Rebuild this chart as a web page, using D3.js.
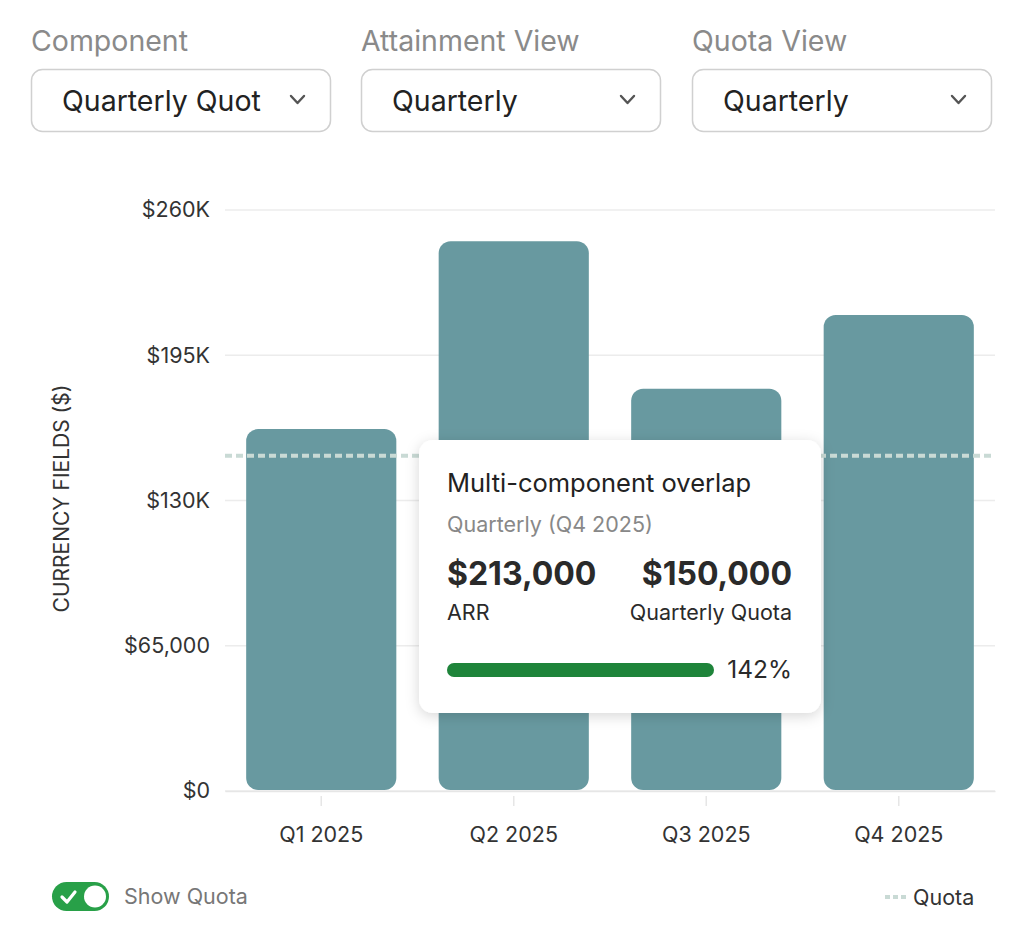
<!DOCTYPE html>
<html>
<head>
<meta charset="utf-8">
<script src="https://cdn.jsdelivr.net/npm/d3@7"></script>
<style>
  body { margin: 0; background: #fff; font-family: Inter, "Noto Sans", sans-serif; }
  svg text { font-family: Inter, "Noto Sans", sans-serif; }
</style>
</head>
<body>
<div id="chart"></div>
<script>
document.addEventListener("DOMContentLoaded", function() {
  // chart data
  const quarters = ["Q1 2025", "Q2 2025", "Q3 2025", "Q4 2025"];
  const arrValues = [162000, 246000, 180000, 213000];
  const quotaValue = 150000;
  const yTicks = [0, 65000, 130000, 195000, 260000];
  const yTickLabels = ["$0", "$65,000", "$130K", "$195K", "$260K"];

  // filter controls
  const filterLabels = ["Component", "Attainment View", "Quota View"];
  const filterValues = ["Quarterly Quot", "Quarterly", "Quarterly"];

  // tooltip content (hovered quarter)
  const tipIndex = 3;
  const tipTitle = "Multi-component overlap";
  const tipSub = "Quarterly (Q4 2025)";

  const W = 1024, H = 932;
  const margin = { top: 210, right: 29, bottom: 141, left: 225 };
  const width = W - margin.left - margin.right;
  const height = H - margin.top - margin.bottom;

  const svg = d3.select("#chart")
    .append("svg")
    .attr("width", W)
    .attr("height", H);

  const defs = svg.append("defs");
  const shadow = defs.append("filter").attr("id", "shadow")
    .attr("x", "-20%").attr("y", "-20%").attr("width", "140%").attr("height", "140%");
  shadow.append("feDropShadow")
    .attr("dx", 0).attr("dy", 3).attr("stdDeviation", 7)
    .attr("flood-color", "#000").attr("flood-opacity", 0.16);

  // dropdowns
  const fx = [31, 361, 692];
  const dd = svg.append("g").selectAll("g")
    .data(filterLabels)
    .enter().append("g")
    .attr("transform", (d, i) => `translate(${fx[i]},0)`);

  dd.append("text")
    .attr("x", 0).attr("y", 51)
    .attr("font-size", 28.5)
    .attr("fill", "#8a8a8a")
    .text(d => d);

  dd.append("rect")
    .attr("x", 0.5).attr("y", 69.5)
    .attr("width", 299).attr("height", 62)
    .attr("rx", 11)
    .attr("fill", "#fff")
    .attr("stroke", "#d0d0d0")
    .attr("stroke-width", 1.5);

  dd.append("text")
    .attr("x", 31).attr("y", 111)
    .attr("font-size", 28.5)
    .attr("fill", "#222")
    .text((d, i) => filterValues[i]);

  dd.append("path")
    .attr("d", "M260,96 L266.5,103 L273,96")
    .attr("fill", "none")
    .attr("stroke", "#555")
    .attr("stroke-width", 2.4)
    .attr("stroke-linecap", "round")
    .attr("stroke-linejoin", "round");

  const g = svg.append("g")
    .attr("transform", `translate(${margin.left},${margin.top})`);

  const x = d3.scaleBand()
    .domain(quarters)
    .range([0, width])
    .paddingInner(0.22)
    .paddingOuter(0.11);

  const y = d3.scaleLinear()
    .domain([0, 260000])
    .range([height, 0]);

  // grid
  g.append("g")
    .selectAll("line")
    .data(yTicks)
    .enter().append("line")
    .attr("x1", 0).attr("x2", width)
    .attr("y1", d => y(d)).attr("y2", d => y(d))
    .attr("stroke", "#ececec")
    .attr("stroke-width", 1.5);

  // y axis
  const yAxis = g.append("g")
    .call(d3.axisLeft(y).tickValues(yTicks).tickSize(0).tickPadding(15)
      .tickFormat((d, i) => yTickLabels[i]));
  yAxis.select(".domain").remove();
  yAxis.selectAll("text")
    .attr("font-size", 21.5)
    .attr("fill", "#333")
    .style("font-family", "Inter, sans-serif");

  // x axis
  const xAxis = g.append("g")
    .attr("transform", `translate(0,${height})`)
    .call(d3.axisBottom(x).tickSize(0).tickPadding(36));
  xAxis.select(".domain").attr("stroke", "#e6e6e6").attr("stroke-width", 1.5);
  xAxis.selectAll(".tick line").remove();
  xAxis.selectAll(".tick").append("line")
    .attr("y1", 5).attr("y2", 15)
    .attr("stroke", "#e6e6e6").attr("stroke-width", 1.5);
  xAxis.selectAll("text")
    .attr("font-size", 21.5)
    .attr("fill", "#333")
    .style("font-family", "Inter, sans-serif");

  // bars
  const r = 12;
  g.append("g")
    .selectAll("rect")
    .data(arrValues)
    .enter().append("rect")
    .attr("x", (d, i) => x(quarters[i]))
    .attr("y", d => y(d))
    .attr("width", x.bandwidth())
    .attr("height", d => height - 1 - y(d))
    .attr("rx", r)
    .attr("fill", "#6899a0");

  // quota line
  g.append("line")
    .attr("x1", 0).attr("x2", width)
    .attr("y1", y(quotaValue)).attr("y2", y(quotaValue))
    .attr("stroke", "#c9dad5")
    .attr("stroke-width", 4)
    .attr("stroke-dasharray", "7 4");

  // y axis title
  svg.append("text")
    .attr("transform", `translate(69,${margin.top + height / 2 - 2})rotate(-90)`)
    .attr("text-anchor", "middle")
    .attr("font-size", 21)
    .attr("fill", "#333")
    .text("CURRENCY FIELDS ($)");

  // tooltip
  const tip = svg.append("g").attr("transform", "translate(419,440)");
  const tw = 402, th = 273;
  tip.append("rect")
    .attr("width", tw).attr("height", th)
    .attr("rx", 14)
    .attr("fill", "#fff")
    .attr("filter", "url(#shadow)");
  tip.append("text")
    .attr("x", 28).attr("y", 52)
    .attr("font-size", 25.5).attr("fill", "#222")
    .text(tipTitle);
  tip.append("text")
    .attr("x", 28).attr("y", 92)
    .attr("font-size", 21.5).attr("fill", "#888")
    .text(tipSub);
  const fmt = d3.format("$,");
  tip.append("text")
    .attr("x", 28).attr("y", 145)
    .attr("font-size", 32).attr("font-weight", 700).attr("fill", "#2a2a2a")
    .text(fmt(arrValues[tipIndex]));
  tip.append("text")
    .attr("x", 373).attr("y", 145)
    .attr("text-anchor", "end")
    .attr("font-size", 32).attr("font-weight", 700).attr("fill", "#2a2a2a")
    .text(fmt(quotaValue));
  tip.append("text")
    .attr("x", 28).attr("y", 180)
    .attr("font-size", 21.5).attr("fill", "#2a2a2a")
    .text("ARR");
  tip.append("text")
    .attr("x", 373).attr("y", 180)
    .attr("text-anchor", "end")
    .attr("font-size", 21.5).attr("fill", "#2a2a2a")
    .text("Quarterly Quota");
  const pct = arrValues[tipIndex] / quotaValue;
  const prog = d3.scaleLinear().domain([0, 1]).range([0, 267]).clamp(true);
  tip.append("rect")
    .attr("x", 28).attr("y", 223)
    .attr("width", 267).attr("height", 14)
    .attr("rx", 7).attr("fill", "#e9ecef");
  tip.append("rect")
    .attr("x", 28).attr("y", 223)
    .attr("width", prog(pct)).attr("height", 14)
    .attr("rx", 7).attr("fill", "#1e843a");
  tip.append("text")
    .attr("x", 373).attr("y", 238)
    .attr("text-anchor", "end")
    .attr("font-size", 24.5).attr("fill", "#2a2a2a")
    .text(d3.format(".0%")(pct));

  // show quota toggle
  const tg = svg.append("g").attr("transform", "translate(52,882)");
  tg.append("rect")
    .attr("width", 57).attr("height", 29).attr("rx", 14.5)
    .attr("fill", "#28a048");
  tg.append("circle")
    .attr("cx", 43).attr("cy", 14.5).attr("r", 11)
    .attr("fill", "#fff");
  tg.append("path")
    .attr("d", "M10,15 L15,20 L23,10")
    .attr("fill", "none").attr("stroke", "#fff")
    .attr("stroke-width", 3.2)
    .attr("stroke-linecap", "round").attr("stroke-linejoin", "round");
  svg.append("text")
    .attr("x", 124).attr("y", 904)
    .attr("font-size", 21.5).attr("fill", "#777")
    .text("Show Quota");

  // legend
  svg.append("line")
    .attr("x1", 885).attr("x2", 906)
    .attr("y1", 897).attr("y2", 897)
    .attr("stroke", "#c9dad5")
    .attr("stroke-width", 4)
    .attr("stroke-dasharray", "5 3");
  svg.append("text")
    .attr("x", 913).attr("y", 905)
    .attr("font-size", 21.5).attr("fill", "#333")
    .text("Quota");
});
</script>
</body>
</html>
